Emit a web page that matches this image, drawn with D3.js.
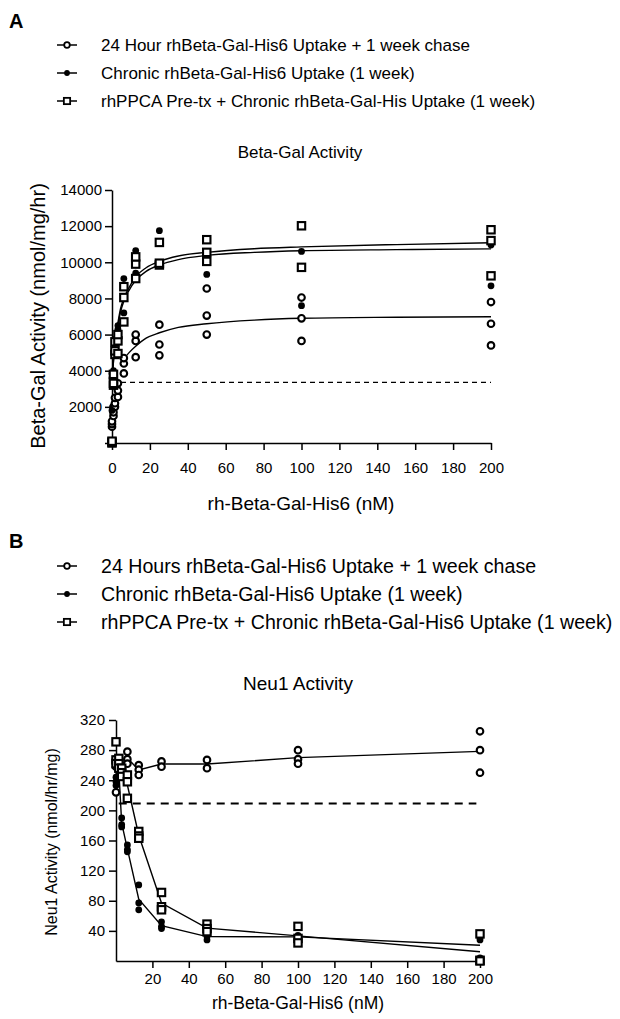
<!DOCTYPE html>
<html>
<head>
<meta charset="utf-8">
<script src="https://cdn.jsdelivr.net/npm/d3@7"></script>
<style>
  body { margin: 0; background: #fff; }
  svg { display: block; font-family: "Liberation Sans", Arial, sans-serif; }
</style>
</head>
<body>
<div id="chart"></div>
<script>
// ---- panel A data (Beta-Gal activity, nmol/mg/hr) ----
const concA = [0, 0.78, 1.56, 3.125, 6.25, 12.5, 25, 50, 100, 200];
const chaseA = [[900, 1050, 1200], [1500, 1700, 2000], [2000, 2200, 2500], [2550, 2900, 3300],
  [3850, 4400, 4700], [4750, 5650, 6000], [4850, 5450, 6550], [6000, 7050, 8550],
  [5650, 6900, 8050], [5400, 6600, 7800]];
const chronicA = [[1800, 3600, 3850], [3700, 3900, 4000], [4900, 5000, 5700], [5800, 6300, 6500],
  [7200, 8700, 9100], [9400, 10400, 10650], [9850, 10000, 11750], [9330, 10500, 10600],
  [7600, 9700, 10600], [8700, 10950, 11100]];
const ppcaA = [[0, 50, 100], [3200, 3300, 3800], [4900, 5100, 5600], [4950, 5650, 6000],
  [6700, 8050, 8650], [9100, 9900, 10300], [9850, 9950, 11100], [10050, 10550, 11250],
  [9720, 12020], [9250, 11200, 11800]];
// fitted curves: [nM, activity]
const fitChaseA = [[6.25, 4650], [9, 5000], [12.5, 5350], [18, 5800], [25, 6100], [35, 6400],
  [50, 6600], [75, 6800], [100, 6900], [150, 6960], [200, 6990]];
const fitChronicA = [[0, 3400], [1, 4800], [2, 5800], [3.125, 6500], [4.5, 7250], [6.25, 7850],
  [9, 8450], [12.5, 9000], [18, 9500], [25, 9850], [35, 10150], [50, 10380], [75, 10550],
  [100, 10640], [150, 10700], [200, 10740]];
const fitPpcaA = [[0, 3300], [1, 4860], [2, 5900], [3.125, 6650], [4.5, 7430], [6.25, 8000],
  [9, 8600], [12.5, 9200], [18, 9700], [25, 10050], [35, 10350], [50, 10550], [75, 10750],
  [100, 10850], [150, 10980], [200, 11080]];
const baselineA = 3350;
const yTicksA = [0, 2000, 4000, 6000, 8000, 10000, 12000, 14000];
const xTicksA = [0, 20, 40, 60, 80, 100, 120, 140, 160, 180, 200];
const legendA = ["24 Hour rhBeta-Gal-His6 Uptake + 1 week chase",
  "Chronic rhBeta-Gal-His6 Uptake (1 week)",
  "rhPPCA Pre-tx + Chronic rhBeta-Gal-His Uptake (1 week)"];

// ---- panel B data (Neu1 activity, nmol/hr/mg) ----
const concB = [0, 1.56, 3.125, 6.25, 12.5, 25, 50, 100, 200];
const chaseB = [[224, 258, 268], [], [], [278, 268, 262], [260, 254, 247], [265, 258],
  [267, 256], [280, 268, 262], [305, 280, 250]];
const chronicB = [[244, 238, 233], [258, 248], [190, 181, 178], [154, 148, 145], [101, 77, 68],
  [52, 46, 43], [36, 33, 28], [34, 32, 30], [31, 28, 4]];
const ppcaB = [[291, 267, 262], [269, 262, 256], [256, 250, 245], [247, 238, 216], [172, 166, 163],
  [91, 72, 68], [49, 43, 39], [46, 30, 24], [36, 1, 0]];
const baselineB = 209;
const yTicksB = [40, 80, 120, 160, 200, 240, 280, 320];
const xTicksB = [20, 40, 60, 80, 100, 120, 140, 160, 180, 200];
const legendB = ["24 Hours rhBeta-Gal-His6 Uptake + 1 week chase",
  "Chronic rhBeta-Gal-His6 Uptake (1 week)",
  "rhPPCA Pre-tx + Chronic rhBeta-Gal-His6 Uptake (1 week)"];

const svg = d3.select("#chart").append("svg")
  .attr("width", 620).attr("height", 1019);

function pts(conc, reps) {
  return conc.flatMap((c, i) => reps[i].map(v => ({x: c, y: v})));
}

function marker(g, kind, x, y, s) {
  if (kind === "open") {
    g.append("circle").attr("cx", x).attr("cy", y).attr("r", 3.3 * s)
      .attr("fill", "#fff").attr("stroke", "#000").attr("stroke-width", 2.1 * s);
  } else if (kind === "filled") {
    g.append("circle").attr("cx", x).attr("cy", y).attr("r", 3.4 * s).attr("fill", "#000");
  } else {
    const h = 3.7 * s;
    g.append("rect").attr("x", x - h).attr("y", y - h).attr("width", 2 * h).attr("height", 2 * h)
      .attr("fill", "#fff").attr("stroke", "#000").attr("stroke-width", 2.1 * s);
  }
}

function legend(top, labels, fs) {
  const kinds = ["open", "filled", "square"];
  labels.forEach((t, i) => {
    const y = top + i * 28;
    const g = svg.append("g");
    g.append("line").attr("x1", 57).attr("x2", 77).attr("y1", y).attr("y2", y)
      .attr("stroke", "#000").attr("stroke-width", 1.5);
    marker(g, kinds[i], 67, y, 0.85);
    g.append("text").attr("x", 101).attr("y", y).attr("dy", "0.36em")
      .style("font-size", fs + "px").text(t);
  });
}

function axes(x, y, xTicks, yTicks, yLabelFmt, xPad, yPad) {
  const [x0] = x.range();
  const [y0] = y.range();
  const gx = svg.append("g").attr("transform", `translate(0,${y0})`)
    .call(d3.axisBottom(x).tickValues(xTicks).tickSize(7).tickSizeOuter(0).tickPadding(xPad));
  const gy = svg.append("g").attr("transform", `translate(${x0},0)`)
    .call(d3.axisLeft(y).tickValues(yTicks).tickSize(7).tickSizeOuter(0).tickPadding(yPad)
      .tickFormat(yLabelFmt));
  [gx, gy].forEach(g => {
    g.selectAll("path, line").attr("stroke", "#000").attr("stroke-width", 1.5);
    g.selectAll("text").attr("fill", "#000").style("font-size", "15px")
      .style("font-family", "'Liberation Sans', Arial, sans-serif");
  });
}

// ================= Panel A =================
svg.append("text").attr("x", 9).attr("y", 28).style("font-size", "20px")
  .style("font-weight", "bold").text("A");
legend(45, legendA, 17);
svg.append("text").attr("x", 300).attr("y", 158).attr("text-anchor", "middle")
  .style("font-size", "17px").text("Beta-Gal Activity");

const xA = d3.scaleLinear().domain([0, 200]).range([112, 491]);
const yA = d3.scaleLinear().domain([0, 14000]).range([443, 190]);

axes(xA, yA, xTicksA, yTicksA, d => d === 0 ? "" : d, 12, 3);

svg.append("text").attr("transform", `translate(45,${316}) rotate(-90)`)
  .attr("text-anchor", "middle").style("font-size", "20px")
  .text("Beta-Gal Activity (nmol/mg/hr)");
svg.append("text").attr("x", 301).attr("y", 510).attr("text-anchor", "middle")
  .style("font-size", "19px").text("rh-Beta-Gal-His6 (nM)");

svg.append("line").attr("x1", xA(0)).attr("x2", xA(200))
  .attr("y1", yA(baselineA)).attr("y2", yA(baselineA))
  .attr("stroke", "#000").attr("stroke-width", 1.2).attr("stroke-dasharray", "5,4");

const fitLine = d3.line().x(d => xA(d[0])).y(d => yA(d[1])).curve(d3.curveMonotoneX);
[fitChaseA, fitChronicA, fitPpcaA].forEach(f => {
  svg.append("path").attr("d", fitLine(f)).attr("fill", "none")
    .attr("stroke", "#000").attr("stroke-width", 1.4);
});

const gA = svg.append("g");
pts(concA, chaseA).forEach(p => marker(gA, "open", xA(p.x), yA(p.y), 1));
pts(concA, chronicA).forEach(p => marker(gA, "filled", xA(p.x), yA(p.y), 1));
pts(concA, ppcaA).forEach(p => marker(gA, "square", xA(p.x), yA(p.y), 1));

// ================= Panel B =================
svg.append("text").attr("x", 9).attr("y", 548).style("font-size", "20px")
  .style("font-weight", "bold").text("B");
legend(566, legendB, 19.6);
svg.append("text").attr("x", 298).attr("y", 690).attr("text-anchor", "middle")
  .style("font-size", "19px").text("Neu1 Activity");

const xB = d3.scaleLinear().domain([0, 200]).range([116, 480]);
const yB = d3.scaleLinear().domain([0, 320]).range([961, 720]);

axes(xB, yB, xTicksB, yTicksB, d => d, 5, 4);

svg.append("text").attr("transform", `translate(57,${842}) rotate(-90)`)
  .attr("text-anchor", "middle").style("font-size", "16px")
  .text("Neu1 Activity (nmol/hr/mg)");
svg.append("text").attr("x", 298).attr("y", 1009).attr("text-anchor", "middle")
  .style("font-size", "17.5px").text("rh-Beta-Gal-His6 (nM)");

svg.append("line").attr("x1", xB(1.5)).attr("x2", xB(198))
  .attr("y1", yB(baselineB)).attr("y2", yB(baselineB))
  .attr("stroke", "#000").attr("stroke-width", 2).attr("stroke-dasharray", "8,6");

// mean lines connecting each concentration
const meanLine = d3.line().x(d => xB(d[0])).y(d => yB(d[1]));
[chaseB, chronicB, ppcaB].forEach(reps => {
  const m = concB.map((c, i) => [c, d3.mean(reps[i])]).filter(d => d[1] !== undefined);
  svg.append("path").attr("d", meanLine(m)).attr("fill", "none")
    .attr("stroke", "#000").attr("stroke-width", 1.4);
});

const gB = svg.append("g");
pts(concB, chaseB).forEach(p => marker(gB, "open", xB(p.x), yB(p.y), 1));
pts(concB, chronicB).forEach(p => marker(gB, "filled", xB(p.x), yB(p.y), 1));
pts(concB, ppcaB).forEach(p => marker(gB, "square", xB(p.x), yB(p.y), 1));
</script>
</body>
</html>
